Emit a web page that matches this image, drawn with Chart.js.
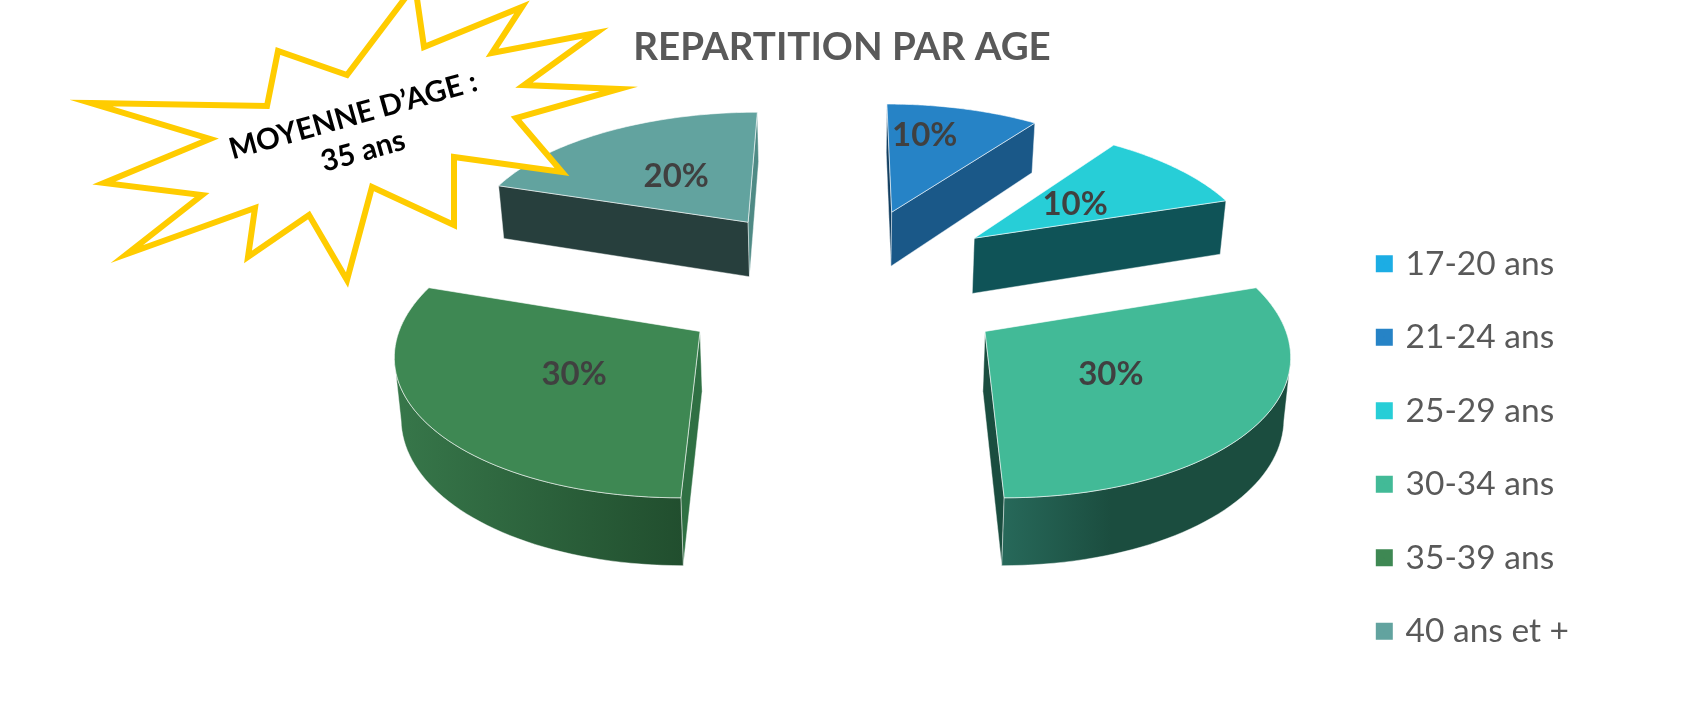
<!DOCTYPE html>
<html>
<head>
<meta charset="utf-8">
<title>Repartition par age</title>
<script src="https://cdn.jsdelivr.net/npm/chart.js@4"></script>
<style>
  html, body { margin: 0; padding: 0; background: #fff; overflow: hidden; }
  canvas { display: block; }
</style>
</head>
<body>
<canvas id="g1" width="1684" height="719"></canvas>
<script>
var ageLabels = ["17-20 ans", "21-24 ans", "25-29 ans", "30-34 ans", "35-39 ans", "40 ans et +"];
var agePercents = [0, 10, 10, 30, 30, 20];
var sliceColors = ["#1CADE4", "#2683C6", "#27CED7", "#42BA97", "#3E8853", "#62A39F"];
var starLines = ["MOYENNE D\u2019AGE :", "35 ans"];

// wall shades for each slice: first radial wall, second radial wall, outer gradient stops
var wallColors = [
  null,
  { first: "#123F61", last: "#1A5888", outer: [[0, "#1A5888"], [1, "#1A5888"]] },
  { first: "#0F5357", last: "#0F5357", outer: [[0, "#0F5357"], [1, "#0F5357"]] },
  { first: "#1A4D3F", last: "#1A4D3F", outer: [[0, "#27695A"], [0.38, "#1B4D3F"], [1, "#1B4D3F"]] },
  { first: "#2F7043", last: "#2F7043", outer: [[0, "#37774A"], [1, "#214E2E"]] },
  { first: "#273F3D", last: "#4F8A85", outer: [[0, "#273F3D"], [1, "#273F3D"]] }
];
var labelReach = [0, 0.72, 0.48, 0.48, 0.48, 0.49];
var labelNudge = [0, -20, 0, 0, 0, 0];

// fake 3D view of the flat pie
var view = { cx: 842.5, cy: 283, tilt: 0.468, near: 0.975, pers: 0.000394, depth: 56, shrink: 0.985 };

function project(u, v, lower) {
  var s = 1 / (view.near - view.pers * v);
  var x = view.cx + u * s;
  var y = view.cy + view.tilt * v * s;
  if (lower) {
    x = view.cx + (x - view.cx) * view.shrink;
    y += view.depth * s;
  }
  return { x: x, y: y };
}

function tracePath(ctx, pts) {
  ctx.beginPath();
  pts.forEach(function (p, i) {
    if (i === 0) ctx.moveTo(p.x, p.y); else ctx.lineTo(p.x, p.y);
  });
  ctx.closePath();
}

function drawWall(ctx, top, low, fill) {
  tracePath(ctx, top.concat(low.slice().reverse()));
  ctx.fillStyle = fill;
  ctx.fill();
  ctx.strokeStyle = "rgba(255,255,255,0.55)";
  ctx.lineWidth = 0.8;
  ctx.stroke();
}

function drawSlice(ctx, arc, index) {
  var mid = (arc.startAngle + arc.endAngle) / 2;
  var ox = arc.options.offset * Math.cos(mid);
  var oy = arc.options.offset * Math.sin(mid);
  var top = [], low = [];
  var steps = 60;
  for (var i = 0; i <= steps; i++) {
    var a = arc.startAngle + (arc.endAngle - arc.startAngle) * i / steps;
    var u = ox + arc.outerRadius * Math.cos(a);
    var v = oy + arc.outerRadius * Math.sin(a);
    top.push(project(u, v, false));
    low.push(project(u, v, true));
  }
  var apexTop = project(ox, oy, false);
  var apexLow = project(ox, oy, true);
  var walls = wallColors[index];

  // a wall shows when its top edge runs leftwards on screen
  if (top[0].x < apexTop.x) drawWall(ctx, [apexTop, top[0]], [apexLow, low[0]], walls.first);
  if (apexTop.x < top[steps].x) drawWall(ctx, [top[steps], apexTop], [low[steps], apexLow], walls.last);

  var runTop = [], runLow = [];
  for (var j = 0; j < steps; j++) {
    if (top[j + 1].x < top[j].x) {
      if (!runTop.length) { runTop.push(top[j]); runLow.push(low[j]); }
      runTop.push(top[j + 1]);
      runLow.push(low[j + 1]);
    }
  }
  if (runTop.length) {
    var xs = runTop.concat(runLow).map(function (p) { return p.x; });
    var grad = ctx.createLinearGradient(Math.min.apply(null, xs), 0, Math.max.apply(null, xs), 0);
    walls.outer.forEach(function (stop) { grad.addColorStop(stop[0], stop[1]); });
    drawWall(ctx, runTop, runLow, grad);
  }

  tracePath(ctx, [apexTop].concat(top));
  ctx.fillStyle = arc.options.backgroundColor;
  ctx.fill();
  ctx.strokeStyle = "rgba(255,255,255,0.75)";
  ctx.lineWidth = 0.8;
  ctx.stroke();
}

function drawPercent(ctx, arc, index) {
  var mid = (arc.startAngle + arc.endAngle) / 2;
  var r = arc.options.offset + arc.outerRadius * labelReach[index];
  var p = project(r * Math.cos(mid), r * Math.sin(mid), false);
  ctx.font = "bold 33px Lato";
  ctx.fillStyle = "#404040";
  ctx.textAlign = "center";
  ctx.textBaseline = "middle";
  ctx.fillText(agePercents[index] + "%", p.x + labelNudge[index], p.y);
}

function drawStar(ctx) {
  var star = [[91,103],[267,106],[278,51],[347,75],[415,-15],[424,47],[522,7],[492,53],[596,33],[524,85],
    [619,89],[516,118],[562,172],[454,157],[454,225],[372,187],[347,280],[309,215],[248,257],[255,208],
    [127,254],[202,195],[104,183],[210,139]];
  ctx.save();
  tracePath(ctx, star.map(function (p) { return { x: p[0], y: p[1] }; }));
  ctx.fillStyle = "#fff";
  ctx.fill();
  ctx.strokeStyle = "#FFCC00";
  ctx.lineWidth = 6;
  ctx.lineJoin = "miter";
  ctx.miterLimit = 12;
  ctx.stroke();
  ctx.translate(358, 133);
  ctx.rotate(-15.7 * Math.PI / 180);
  ctx.fillStyle = "#000";
  ctx.font = "bold 29.5px Lato";
  ctx.textAlign = "center";
  ctx.textBaseline = "middle";
  ctx.fillText(starLines[0], 0, -18);
  ctx.fillText(starLines[1], 0, 19);
  ctx.restore();
}

var pie3d = {
  id: "pie3d",
  beforeDatasetsDraw: function (chart) {
    var ctx = chart.ctx;
    var arcs = chart.getDatasetMeta(0).data;
    // back slices first
    [5, 1, 2, 4, 3].forEach(function (i) { drawSlice(ctx, arcs[i], i); });
    [5, 1, 2, 4, 3].forEach(function (i) { drawPercent(ctx, arcs[i], i); });
    return false;
  },
  afterDraw: function (chart) {
    drawStar(chart.ctx);
  }
};

var g1 = document.getElementById("g1").getContext("2d");
var myG1 = new Chart(g1, {
  type: "pie",
  data: {
    labels: ageLabels,
    datasets: [{
      data: agePercents,
      backgroundColor: sliceColors,
      borderWidth: 0,
      offset: 165,
      radius: 282
    }]
  },
  options: {
    responsive: false,
    animation: false,
    events: [],
    layout: { padding: { left: 105, right: 105, top: 24, bottom: 31 } },
    plugins: {
      tooltip: { enabled: false },
      title: {
        display: true,
        text: "REPARTITION PAR AGE",
        color: "#595959",
        font: { family: "Lato", size: 38.5, weight: "bold" },
        padding: 0
      },
      legend: {
        position: "right",
        align: "end",
        labels: {
          color: "#595959",
          font: { family: "Lato", size: 33.5 },
          boxWidth: 9,
          boxHeight: 9,
          padding: 40,
          // thick border of the same colour keeps the text close to the marker
          generateLabels: function (chart) {
            var items = Chart.overrides.pie.plugins.legend.labels.generateLabels(chart);
            items.forEach(function (item) {
              item.strokeStyle = item.fillStyle;
              item.lineWidth = 8;
            });
            return items;
          }
        }
      }
    }
  },
  plugins: [pie3d]
});
</script>
</body>
</html>
